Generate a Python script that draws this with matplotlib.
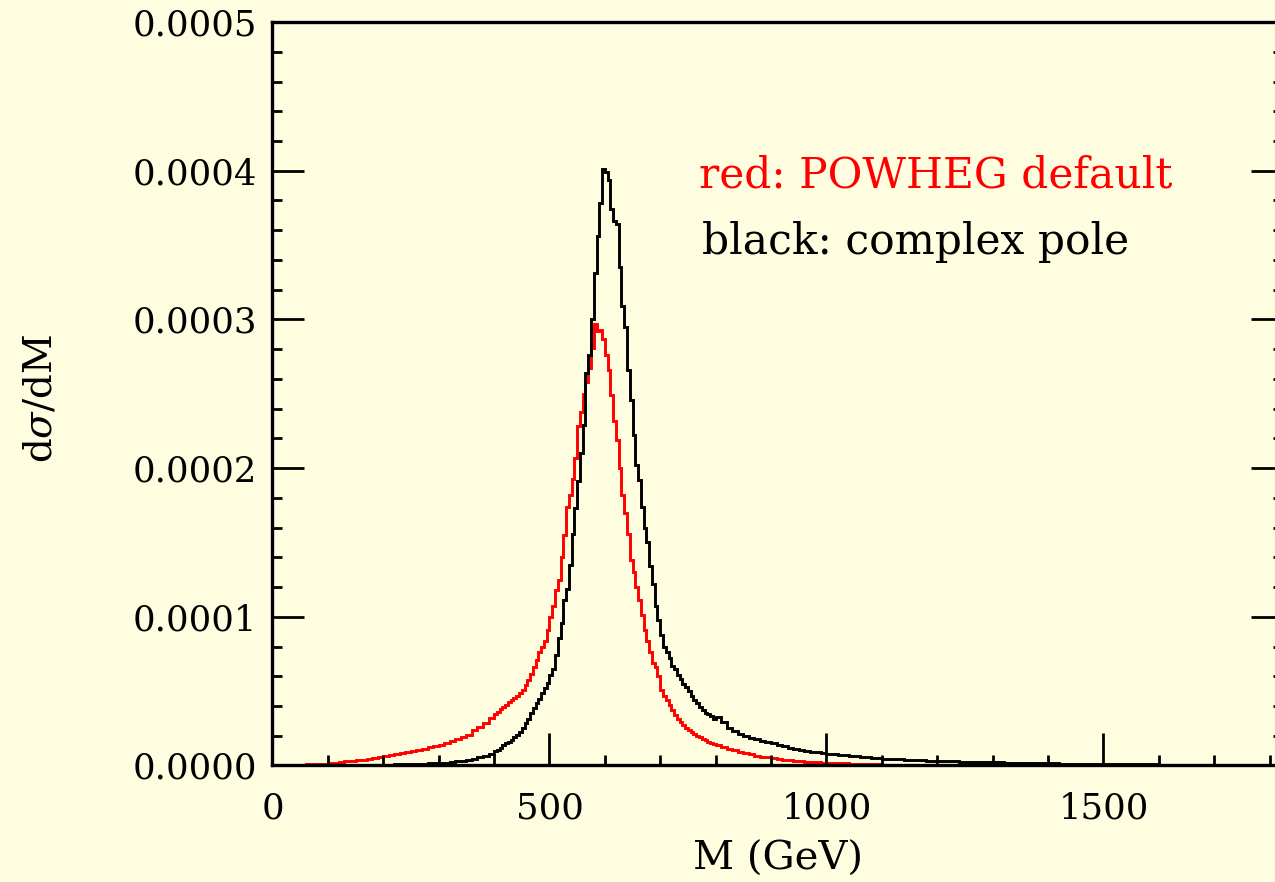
import numpy as np
import matplotlib.pyplot as plt
from matplotlib.ticker import MultipleLocator, FormatStrFormatter

plt.rcParams['font.family'] = 'DejaVu Serif'
plt.rcParams['mathtext.fontset'] = 'dejavuserif'

# bin edges in GeV: finer binning around the resonance
edges = np.concatenate([np.arange(0, 400, 10), np.arange(400, 800, 5),
                        np.arange(800, 1000, 10), np.arange(1000, 1801, 20)])

# d sigma / dM in units of 1e-4
red_lo = [0.0, 0.0, 0.0, 0.001, 0.003, 0.005, 0.007, 0.009, 0.011, 0.013,
          0.016, 0.020, 0.024, 0.028, 0.031, 0.035, 0.040, 0.045, 0.052, 0.056,
          0.062, 0.068, 0.074, 0.082, 0.090, 0.100, 0.106, 0.113, 0.122, 0.130,
          0.140, 0.150, 0.163, 0.178, 0.192, 0.208, 0.240, 0.262, 0.288, 0.322]
red_mid = [0.345, 0.360, 0.380, 0.395, 0.410, 0.425, 0.440, 0.455, 0.470, 0.490,
           0.510, 0.540, 0.575, 0.615, 0.660, 0.710, 0.760, 0.800, 0.840, 0.910,
           1.000, 1.070, 1.180, 1.250, 1.400, 1.550, 1.740, 1.820, 1.930, 2.070,
           2.280, 2.380, 2.500, 2.580, 2.670, 2.810, 2.970, 2.920, 2.930, 2.870,
           2.760, 2.660, 2.490, 2.320, 2.190, 2.000, 1.820, 1.700, 1.560, 1.380,
           1.300, 1.200, 1.110, 1.010, 0.910, 0.840, 0.760, 0.690, 0.660, 0.600,
           0.510, 0.470, 0.440, 0.410, 0.370, 0.340, 0.310, 0.290, 0.270, 0.255,
           0.240, 0.225, 0.210, 0.200, 0.190, 0.178, 0.170, 0.160, 0.152, 0.145]
red_hi = [0.135, 0.125, 0.112, 0.102, 0.092, 0.082, 0.074, 0.066, 0.060, 0.054,
          0.049, 0.045, 0.040, 0.036, 0.032, 0.029, 0.026, 0.023, 0.021, 0.019]
red_tail = [0.017, 0.014, 0.011, 0.009, 0.007, 0.006, 0.005, 0.004, 0.0035, 0.003,
            0.0025, 0.002, 0.002, 0.0018, 0.0015, 0.0013, 0.0012, 0.001, 0.001, 0.0009,
            0.0008, 0.0007, 0.0007, 0.0006, 0.0006, 0.0005, 0.0005, 0.0004, 0.0004, 0.0004,
            0.0003, 0.0003, 0.0003, 0.0003, 0.0002, 0.0002, 0.0002, 0.0002, 0.0002, 0.0001]

blk_lo = [0.0, 0.0, 0.0, 0.0, 0.0, 0.0, 0.0, 0.0, 0.0, 0.0,
          0.0, 0.0, 0.0, 0.0, 0.0, 0.001, 0.002, 0.002, 0.003, 0.004,
          0.005, 0.006, 0.007, 0.008, 0.009, 0.010, 0.011, 0.012, 0.014, 0.015,
          0.017, 0.020, 0.023, 0.027, 0.031, 0.036, 0.045, 0.055, 0.066, 0.080]
blk_mid = [0.095, 0.105, 0.120, 0.135, 0.148, 0.160, 0.172, 0.190, 0.205, 0.225,
           0.250, 0.285, 0.310, 0.350, 0.385, 0.420, 0.450, 0.490, 0.520, 0.555,
           0.610, 0.650, 0.740, 0.860, 0.960, 1.110, 1.190, 1.350, 1.560, 1.730,
           1.910, 2.100, 2.290, 2.640, 2.760, 3.000, 3.310, 3.560, 3.780, 4.010,
           3.990, 3.940, 3.740, 3.660, 3.640, 3.350, 3.090, 2.950, 2.660, 2.460,
           2.220, 2.020, 1.920, 1.740, 1.600, 1.500, 1.340, 1.220, 1.070, 0.980,
           0.880, 0.800, 0.760, 0.720, 0.670, 0.650, 0.610, 0.580, 0.550, 0.530,
           0.500, 0.470, 0.440, 0.420, 0.390, 0.370, 0.355, 0.345, 0.330, 0.315]
blk_hi = [0.325, 0.290, 0.255, 0.235, 0.215, 0.200, 0.188, 0.176, 0.166, 0.157,
          0.148, 0.140, 0.130, 0.120, 0.112, 0.105, 0.099, 0.094, 0.089, 0.085]
blk_tail = [0.080, 0.071, 0.062, 0.055, 0.050, 0.046, 0.042, 0.039, 0.035, 0.032,
            0.030, 0.028, 0.026, 0.025, 0.023, 0.021, 0.020, 0.018, 0.017, 0.015,
            0.014, 0.012, 0.011, 0.010, 0.009, 0.009, 0.008, 0.008, 0.007, 0.007,
            0.006, 0.006, 0.005, 0.005, 0.005, 0.004, 0.004, 0.004, 0.003, 0.003]

red = np.array(red_lo + red_mid + red_hi + red_tail) * 1e-4
black = np.array(blk_lo + blk_mid + blk_hi + blk_tail) * 1e-4

bg = '#fffde0'
fig = plt.figure(figsize=(12.75, 8.82), dpi=100, facecolor=bg)
# right frame edge sits just past the picture border
ax = fig.add_axes([0.2137, 0.1321, 0.7925, 0.8429], facecolor=bg)

ax.stairs(red, edges, color='#ff0000', lw=2.1)
ax.stairs(black, edges, color='black', lw=2.1)

ax.set_xlim(0, 1824)
ax.set_ylim(0, 0.0005)

ax.xaxis.set_major_locator(MultipleLocator(500))
ax.xaxis.set_minor_locator(MultipleLocator(100))
ax.yaxis.set_major_locator(MultipleLocator(0.0001))
ax.yaxis.set_minor_locator(MultipleLocator(0.00002))
ax.yaxis.set_major_formatter(FormatStrFormatter('%.4f'))

ax.tick_params(which='both', direction='in', top=False, right=True,
               colors='black', labelsize=25.5, width=2)
ax.tick_params(which='major', length=23)
ax.tick_params(which='minor', length=7.5)
ax.tick_params(axis='x', pad=19)
ax.tick_params(axis='y', pad=11)
for s in ax.spines.values():
    s.set_linewidth(2.4)

ax.set_xlabel('M (GeV)', fontsize=29)
ax.set_ylabel(r'd$\sigma$/dM', fontsize=28)
ax.xaxis.set_label_coords(0.5, -0.101)
ax.yaxis.set_label_coords(-0.2105, 0.4936)

ax.text(770, 3.97e-4, 'red: POWHEG default', color='#ff0000', fontsize=30.5, va='center')
ax.text(775, 3.52e-4, 'black: complex pole', color='black', fontsize=30.5, va='center')

fig.savefig('out.png', dpi=100, facecolor=bg)
